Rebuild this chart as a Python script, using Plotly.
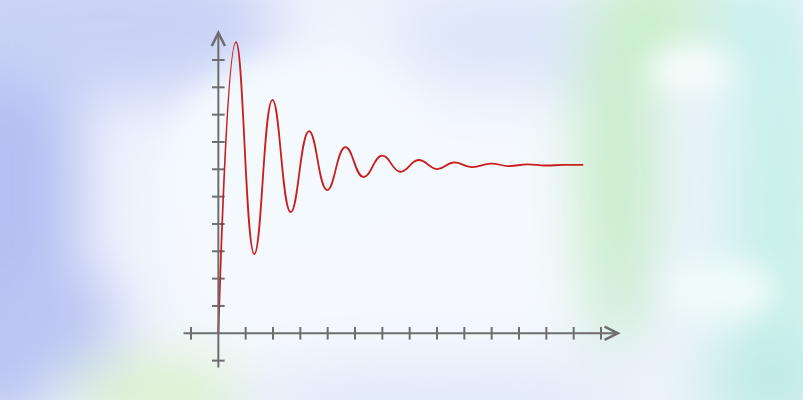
import base64
import plotly.graph_objects as go

# ---- data (axis units: one tick = 1) ----
curve_x = [0, 0.648, 1.317, 1.98, 2.649, 3.318, 3.98, 4.647, 5.305, 5.99, 6.65,
           7.32, 7.99, 8.6, 9.27, 9.97, 10.61, 11.3, 11.95, 12.6, 13.35]
curve_y = [0, 10.65, 2.9, 8.54, 4.43, 7.40, 5.24, 6.81, 5.72, 6.50, 5.91,
           6.34, 6.01, 6.25, 6.08, 6.21, 6.12, 6.18, 6.14, 6.16, 6.16]

x_ticks = [-1, 1, 2, 3, 4, 5, 6, 7, 8, 9, 10, 11, 12, 13, 14]
y_ticks = [-1, 1, 2, 3, 4, 5, 6, 7, 8, 9, 10]

x_axis_span = [-1.33, 14.72]
y_axis_span = [-1.31, 11.1]

x_range = [-7.988, 21.39]
y_range = [-2.88, 12.195]

AXIS = "#6e6e6e"
RED = "#c81e1e"

# ---- watercolor-like background as an SVG image ----
svg = """<svg xmlns="http://www.w3.org/2000/svg" width="803" height="412" viewBox="0 0 803 412" preserveAspectRatio="none">
<defs>
<filter id="b" x="-60%" y="-60%" width="220%" height="220%"><feGaussianBlur stdDeviation="30"/></filter>
<filter id="s" x="-60%" y="-60%" width="220%" height="220%"><feGaussianBlur stdDeviation="14"/></filter>
<clipPath id="c"><rect width="803" height="400"/></clipPath>
</defs>
<rect width="803" height="412" fill="#ffffff"/>
<g clip-path="url(#c)">
<rect width="803" height="400" fill="#edf3fc"/>
<g filter="url(#b)">
<ellipse cx="0" cy="190" rx="80" ry="240" fill="#b6bff3"/>
<ellipse cx="110" cy="25" rx="170" ry="75" fill="#c9d2f6"/>
<ellipse cx="40" cy="320" rx="80" ry="60" fill="#bcc4f3"/>
<ellipse cx="170" cy="395" rx="100" ry="35" fill="#daf2c8"/>
<ellipse cx="380" cy="230" rx="230" ry="190" fill="#f5f9fe"/>
<ellipse cx="500" cy="40" rx="110" ry="55" fill="#dde6f9"/>
<ellipse cx="430" cy="395" rx="200" ry="35" fill="#e0e9f9"/>
<ellipse cx="615" cy="170" rx="38" ry="180" fill="#c6ecc8"/>
<ellipse cx="650" cy="15" rx="60" ry="50" fill="#c9efc9"/>
<ellipse cx="780" cy="220" rx="55" ry="220" fill="#c9f1ea"/>
<ellipse cx="770" cy="385" rx="70" ry="45" fill="#bdebe4"/>
<ellipse cx="760" cy="20" rx="50" ry="40" fill="#c4f0ec"/>
</g>
<g filter="url(#s)">
<ellipse cx="690" cy="70" rx="40" ry="22" fill="#f6fdfb"/>
<ellipse cx="720" cy="290" rx="55" ry="30" fill="#f0fbf9"/>
<ellipse cx="300" cy="160" rx="130" ry="100" fill="#f4f9fe"/>
</g>
</g>
</svg>"""
bg_src = "data:image/svg+xml;base64," + base64.b64encode(svg.encode()).decode()

fig = go.Figure()

# tick marks crossing the axes
fig.add_trace(go.Scatter(
    x=x_ticks, y=[0] * len(x_ticks), mode="markers", hoverinfo="skip",
    marker=dict(symbol="line-ns", size=9, line=dict(color=AXIS, width=2)),
))
fig.add_trace(go.Scatter(
    x=[0] * len(y_ticks), y=y_ticks, mode="markers", hoverinfo="skip",
    marker=dict(symbol="line-ew", size=9, line=dict(color=AXIS, width=2)),
))

# damped response curve
fig.add_trace(go.Scatter(
    x=curve_x, y=curve_y, mode="lines", hoverinfo="skip",
    line=dict(color=RED, width=1.8, shape="spline", smoothing=1.3),
))

# axes with chevron arrow heads
fig.add_annotation(x=x_axis_span[1], y=0, ax=x_axis_span[0], ay=0,
                   xref="x", yref="y", axref="x", ayref="y", text="",
                   showarrow=True, arrowhead=5, arrowsize=1.3, arrowwidth=2,
                   arrowcolor=AXIS)
fig.add_annotation(x=0, y=y_axis_span[1], ax=0, ay=y_axis_span[0],
                   xref="x", yref="y", axref="x", ayref="y", text="",
                   showarrow=True, arrowhead=5, arrowsize=1.3, arrowwidth=2,
                   arrowcolor=AXIS)

fig.add_layout_image(dict(source=bg_src, xref="paper", yref="paper", x=0, y=1,
                          sizex=1, sizey=1, xanchor="left", yanchor="top",
                          sizing="stretch", layer="below"))

fig.update_layout(
    width=803, height=412, autosize=False,
    margin=dict(l=0, r=0, t=0, b=0),
    paper_bgcolor="#ffffff", plot_bgcolor="rgba(0,0,0,0)",
    showlegend=False, hovermode=False,
    xaxis=dict(range=x_range, visible=False, fixedrange=True),
    yaxis=dict(range=y_range, visible=False, fixedrange=True),
)

fig.write_html("out.html", config={"displayModeBar": False, "staticPlot": True},
               post_script="document.body.style.margin='0px';document.body.style.overflow='hidden';")
